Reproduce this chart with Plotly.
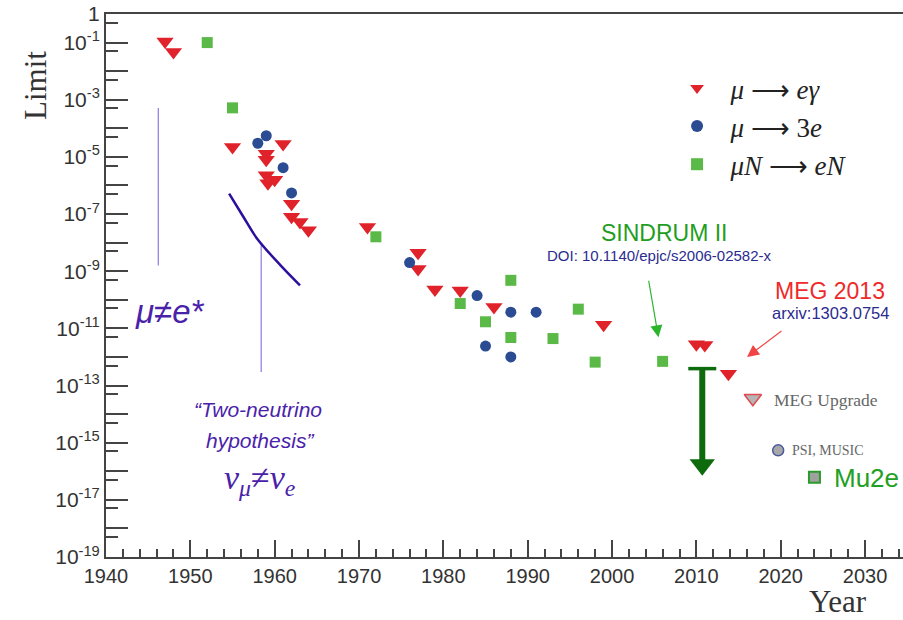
import plotly.graph_objects as go

# ---------------- data ----------------
meg_years = [1947, 1948, 1955, 1959, 1959, 1961, 1959, 1960, 1959.2, 1962, 1962, 1963, 1964,
             1971, 1977, 1977, 1979, 1982, 1986, 1999, 2010, 2011, 2013.8]
meg_limits = [1.1e-1, 4.7e-2, 2.2e-5, 1.3e-5, 8e-6, 2.8e-5, 2.3e-6, 1.6e-6, 1.2e-6, 2.3e-7, 8e-8, 5.3e-8, 2.7e-8,
              3.5e-8, 4.4e-9, 1.2e-9, 2.3e-10, 2.1e-10, 5.6e-11, 1.35e-11, 2.8e-12, 2.6e-12, 2.6e-13]

mu3e_years = [1958, 1959, 1961, 1962, 1976, 1984, 1985, 1988, 1991, 1988]
mu3e_limits = [3e-5, 5.5e-5, 4.2e-6, 5.5e-7, 2e-9, 1.4e-10, 2.4e-12, 3.7e-11, 3.7e-11, 1e-12]

conv_years = [1952, 1955, 1972, 1982, 1985, 1988, 1988, 1993, 1996, 1998, 2006]
conv_limits = [1e-1, 5.2e-4, 1.6e-8, 7.4e-11, 1.7e-11, 4.8e-10, 4.8e-12, 4.4e-12, 4.7e-11, 6.6e-13, 7e-13]

# future projects
meg_up_year, meg_up_limit = [2016.7], [3.6e-14]
psi_year, psi_limit = [2019.7], [5.4e-16]
mu2e_year, mu2e_limit = [2024.0], [6.2e-17]

# two-neutrino curve
curve_years = [1954.6, 1956.3, 1957.9, 1960.7, 1963.0]
curve_limits = [5.2e-7, 7.9e-8, 1.4e-8, 1.6e-9, 3.2e-10]

# vertical guide lines
mue_line_year, mue_line_limits = 1946.2, [5.1e-4, 1.6e-9]
twonu_line_year, twonu_line_limits = 1958.4, [8.1e-9, 3e-13]

# Mu2e improvement arrow
arrow_year, arrow_top, arrow_head = 2010.7, 3.9e-13, 1.7e-16

# axis ticks
x_ticks = [1940, 1950, 1960, 1970, 1980, 1990, 2000, 2010, 2020, 2030]
y_exps = list(range(0, 20))
y_tickvals = [10.0 ** (-k) for k in y_exps]
y_ticktext = ["1" if k == 0 else ("10<sup>-%d</sup>" % k if k % 2 == 1 else "") for k in y_exps]
y_minor = [0.5 * 10.0 ** (-k) for k in range(0, 19)]

RED = "#e0232b"
BLUE = "#2b4b93"
GREEN = "#5bb947"
PURPLE = "#4a22aa"
SANS = "Liberation Sans"
SERIF = "Liberation Serif"
NB = "\u00a0\u00a0"

fig = go.Figure()

# guide lines
fig.add_trace(go.Scatter(x=[mue_line_year, mue_line_year], y=mue_line_limits, mode="lines",
                         line=dict(color="#8a7ae0", width=1.2), showlegend=False, hoverinfo="skip"))
fig.add_trace(go.Scatter(x=[twonu_line_year, twonu_line_year], y=twonu_line_limits, mode="lines",
                         line=dict(color="#8a7ae0", width=1.2), showlegend=False, hoverinfo="skip"))
fig.add_trace(go.Scatter(x=curve_years, y=curve_limits, mode="lines", line=dict(color="#2d0f9e", width=2.5, shape="spline"),
                         showlegend=False, hoverinfo="skip"))

# data
fig.add_trace(go.Scatter(x=meg_years, y=meg_limits, mode="markers", name=NB + "<i>μ</i> ⟶ <i>eγ</i>",
                         marker=dict(symbol="triangle-down", size=15, color=RED), legendrank=1))
fig.add_trace(go.Scatter(x=conv_years, y=conv_limits, mode="markers", name=NB + "<i>μN</i> ⟶ <i>eN</i>",
                         marker=dict(symbol="square", size=11, color=GREEN), legendrank=3))
fig.add_trace(go.Scatter(x=mu3e_years, y=mu3e_limits, mode="markers", name=NB + "<i>μ</i> ⟶ 3<i>e</i>",
                         marker=dict(symbol="circle", size=11, color=BLUE), legendrank=2))

# future
fig.add_trace(go.Scatter(x=meg_up_year, y=meg_up_limit, mode="markers", showlegend=False,
                         marker=dict(symbol="triangle-down", size=15, color="#b5b5b5", line=dict(color="#e04a50", width=1.5))))
fig.add_trace(go.Scatter(x=psi_year, y=psi_limit, mode="markers", showlegend=False,
                         marker=dict(symbol="circle", size=11, color="#a8a8a8", line=dict(color="#4a5a9e", width=1.5))))
fig.add_trace(go.Scatter(x=mu2e_year, y=mu2e_limit, mode="markers", showlegend=False,
                         marker=dict(symbol="square", size=11, color="#a0a0a0", line=dict(color="#2a9a2a", width=2))))

# big green arrow
fig.add_trace(go.Scatter(x=[arrow_year, arrow_year], y=[arrow_top, arrow_head], mode="lines",
                         line=dict(color="#0d6b0d", width=6), showlegend=False, hoverinfo="skip"))
fig.add_trace(go.Scatter(x=[arrow_year], y=[arrow_top], mode="markers", showlegend=False, hoverinfo="skip",
                         marker=dict(symbol="line-ew", size=20, line=dict(color="#0d6b0d", width=3.5))))
fig.add_trace(go.Scatter(x=[arrow_year], y=[arrow_head], mode="markers", showlegend=False, hoverinfo="skip",
                         marker=dict(symbol="triangle-down", size=22, color="#0d6b0d")))

ann = []
def txt(x, y, s, size, color, family=SANS, xanchor="center", **kw):
    ann.append(dict(x=x, y=y, xref="x", yref="y", text=s, showarrow=False, xanchor=xanchor, yanchor="middle",
                    font=dict(family=family, size=size, color=color), **kw))

txt(2006.2, -7.67, "SINDRUM II", 23, "#1f9e1f")
txt(2005.6, -8.44, "DOI: 10.1140/epjc/s2006-02582-x", 15, "#2b2b8f")
txt(2025.8, -9.70, "MEG 2013", 23, "#ee2a2a")
txt(2025.9, -10.47, "arxiv:1303.0754", 16.5, "#2b2b8f")
txt(2019.0, -13.52, "MEG Upgrade", 17.5, "#666666", family=SERIF, xanchor="left")
txt(2021.1, -15.27, "PSI, MUSIC", 14, "#666666", family=SERIF, xanchor="left")
txt(2026.1, -16.22, "Mu2e", 26, "#22a022", xanchor="left")
txt(1943.2, -10.4, "<i>μ≠e*</i>", 33, PURPLE, xanchor="left")
txt(1958.0, -13.84, "<i>“Two-neutrino</i>", 21, PURPLE)
txt(1958.2, -14.92, "<i>hypothesis”</i>", 21, PURPLE)
txt(1958.2, -16.3, "<i>ν</i><sub><i>μ</i></sub>≠<i>ν</i><sub><i>e</i></sub>", 34, PURPLE, family=SERIF)

# pointer arrows
ann.append(dict(x=2005.5, y=-11.31, xref="x", yref="y", ax=-10, ay=-58, text="", showarrow=True,
                arrowhead=2, arrowsize=2, arrowwidth=1.2, arrowcolor="#2cb52c"))
ann.append(dict(x=2016.0, y=-12.0, xref="x", yref="y", ax=36, ay=-27, text="", showarrow=True,
                arrowhead=2, arrowsize=2, arrowwidth=1.2, arrowcolor="#f04545"))

# axis titles (positions given in pixels, converted to paper coordinates)
titles = [("Limit", 35, 86, -90), ("Year", 838, 601, 0)]
for label, px, py, ang in titles:
    ann.append(dict(x=(px - 106) / 797.0, y=1 - (py - 14) / 543.0, xref="paper", yref="paper",
                    xanchor="center", yanchor="middle", text=label, showarrow=False, textangle=ang,
                    font=dict(family=SERIF, size=31, color="#333333")))

fig.update_layout(
    width=903, height=620,
    margin=dict(l=106, r=0, t=14, b=63),
    plot_bgcolor="white", paper_bgcolor="white",
    annotations=ann,
    legend=dict(x=0.7165, y=0.908, xanchor="left", yanchor="top", bgcolor="rgba(0,0,0,0)",
                font=dict(family=SERIF, size=27, color="#222222"), itemsizing="constant"),
    xaxis=dict(range=[1940, 2034.5], tickvals=x_ticks, ticks="inside", ticklen=17, tickwidth=1.5,
               tickcolor="#444", showline=True, linecolor="#444", linewidth=2, mirror=True,
               showgrid=False, zeroline=False, tickfont=dict(family=SANS, size=20, color="#333"),
               minor=dict(tick0=1940, dtick=2, ticks="inside", ticklen=8, tickwidth=1.5, tickcolor="#444")),
    yaxis=dict(type="log", range=[-19, 0], tickvals=y_tickvals, ticktext=y_ticktext, ticks="inside",
               ticklen=22, tickwidth=1.5, tickcolor="#444", showline=True, linecolor="#444", linewidth=2,
               showgrid=False, zeroline=False, tickfont=dict(family=SANS, size=21, color="#333"),
               minor=dict(tickvals=y_minor, ticks="inside", ticklen=12, tickwidth=1.5, tickcolor="#444")),
)

fig.write_html("out.html")
